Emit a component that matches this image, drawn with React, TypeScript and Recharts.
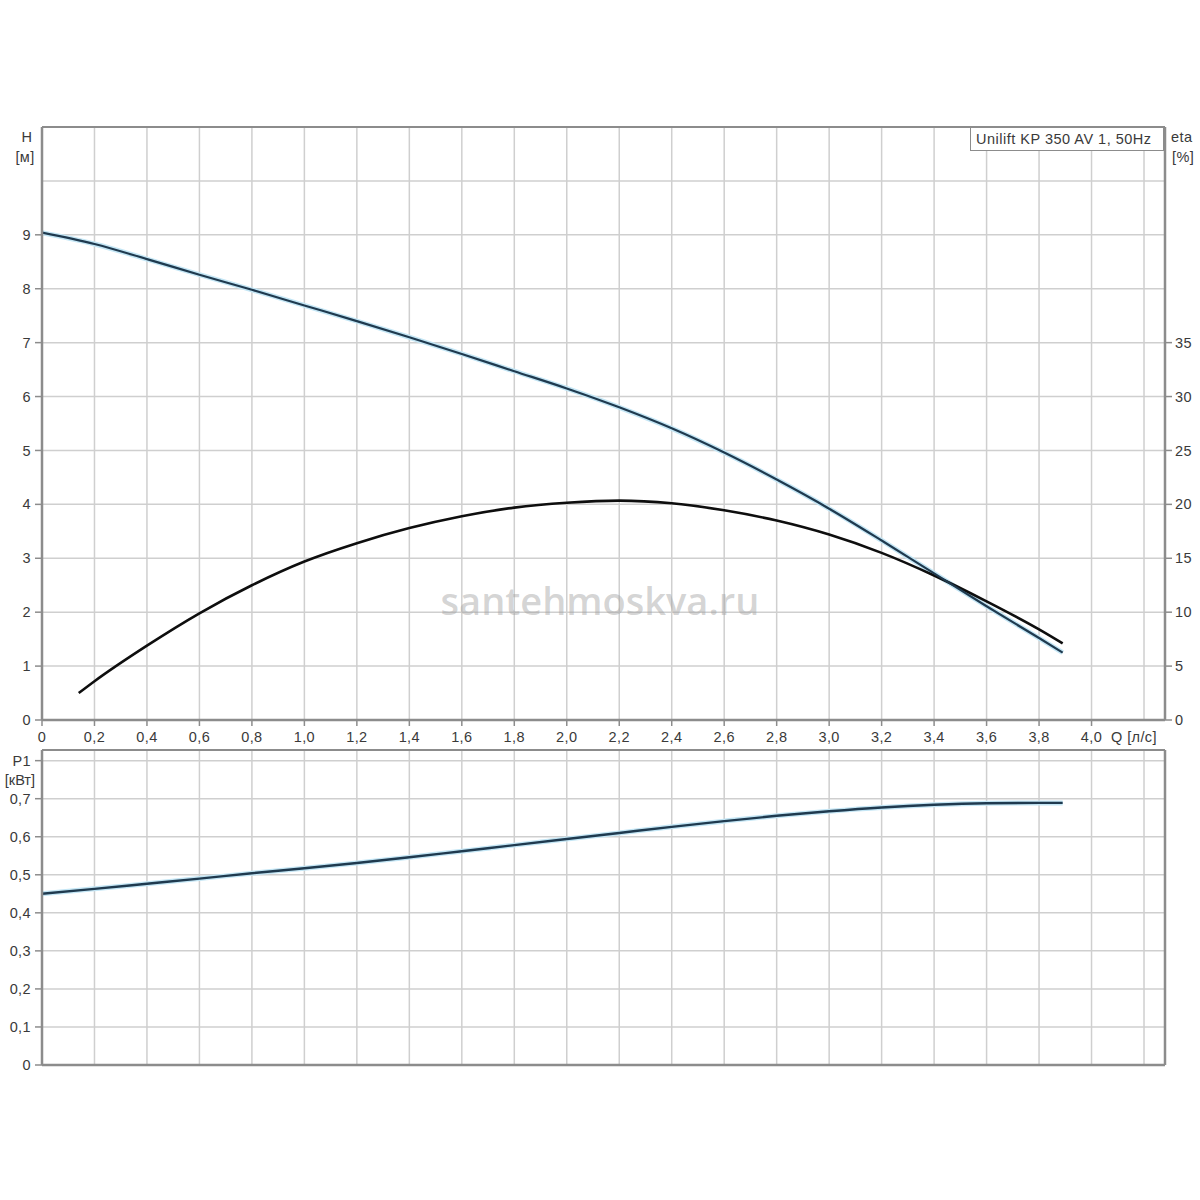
import { LineChart, Line, XAxis, YAxis, CartesianGrid, ReferenceLine } from 'recharts'

// flow rate Q [l/s] sampled along the curves
const Q_POINTS = [0, 0.2, 0.4, 0.6, 0.8, 1.0, 1.2, 1.4, 1.6, 1.8, 2.0, 2.2, 2.4, 2.6, 2.8, 3.0, 3.2, 3.4, 3.6, 3.8, 3.89]
// head H [m]
const HEAD = [9.04, 8.83, 8.55, 8.26, 7.98, 7.69, 7.4, 7.1, 6.79, 6.47, 6.15, 5.8, 5.41, 4.96, 4.46, 3.92, 3.33, 2.72, 2.11, 1.52, 1.25]
// efficiency curve starts a bit later
const ETA_Q = [0.14, 0.2, 0.4, 0.6, 0.8, 1.0, 1.2, 1.4, 1.6, 1.8, 2.0, 2.2, 2.4, 2.6, 2.8, 3.0, 3.2, 3.4, 3.6, 3.8, 3.89]
const ETA = [2.5, 3.6, 6.9, 9.9, 12.5, 14.7, 16.4, 17.8, 18.9, 19.7, 20.15, 20.35, 20.1, 19.45, 18.5, 17.2, 15.5, 13.4, 11.0, 8.4, 7.1]
// power P1 [kW]
const P1 = [0.45, 0.463, 0.4765, 0.49, 0.504, 0.517, 0.531, 0.546, 0.562, 0.578, 0.594, 0.61, 0.626, 0.641, 0.655, 0.667, 0.677, 0.684, 0.688, 0.689, 0.689]

const Q_TICKS = [0, 0.2, 0.4, 0.6, 0.8, 1.0, 1.2, 1.4, 1.6, 1.8, 2.0, 2.2, 2.4, 2.6, 2.8, 3.0, 3.2, 3.4, 3.6, 3.8, 4.0, 4.2]
const H_TICKS = [0, 1, 2, 3, 4, 5, 6, 7, 8, 9, 10, 11]
const ETA_TICKS = [0, 5, 10, 15, 20, 25, 30, 35, 55]
const P_TICKS = [0, 0.1, 0.2, 0.3, 0.4, 0.5, 0.6, 0.7, 0.8]

const TITLE = 'Unilift KP 350 AV 1, 50Hz'
const WATERMARK = 'santehmoskva.ru'

const headData = Q_POINTS.map((q, i) => ({ q, v: HEAD[i] }))
const etaData = ETA_Q.map((q, i) => ({ q, v: ETA[i] }))
const powerData = Q_POINTS.map((q, i) => ({ q, v: P1[i] }))

const FONT = '"Liberation Sans", Arial, sans-serif'
const TEXT = '#3a3a3a'
const GRID = '#cfcfcf'
const AXIS = '#8c8c8c'
const CURVE = '#1f3a4f'
const GLOW = '#c4e6f5'

const fmt = (v: number) => (v === 0 ? '0' : v.toFixed(1).replace('.', ','))

const txt = { fontFamily: FONT, fontSize: 14.5, fill: TEXT, letterSpacing: 0.4 }

// eslint-disable-next-line @typescript-eslint/no-explicit-any
function QTick({ x, y, payload }: any) {
  const v = payload.value
  if (v > 4.1) {
    return <text x={x - 10} y={y + 17} dy="0.35em" textAnchor="middle" {...txt}>Q [л/с]</text>
  }
  return (
    <g>
      <line x1={x} x2={x} y1={y} y2={y + 6} stroke={AXIS} strokeWidth={1.5} />
      <text x={x} y={y + 17} dy="0.35em" textAnchor="middle" {...txt}>{fmt(v)}</text>
    </g>
  )
}

function EmptyTick() {
  return <g />
}

// eslint-disable-next-line @typescript-eslint/no-explicit-any
function HTick({ x, y, payload }: any) {
  const v = payload.value
  if (v === 11) {
    return (
      <g>
        <text x={x - 15} y={y + 10} dy="0.35em" textAnchor="middle" {...txt}>H</text>
        <text x={x - 17} y={y + 30} dy="0.35em" textAnchor="middle" {...txt}>[м]</text>
      </g>
    )
  }
  if (v === 10) return <g />
  return (
    <g>
      <line x1={x - 7} x2={x} y1={y} y2={y} stroke={AXIS} strokeWidth={1.5} />
      <text x={x - 11} y={y} dy="0.35em" textAnchor="end" {...txt}>{v}</text>
    </g>
  )
}

// eslint-disable-next-line @typescript-eslint/no-explicit-any
function EtaTick({ x, y, payload }: any) {
  const v = payload.value
  if (v === 55) {
    return (
      <g>
        <text x={x + 6} y={y + 10} dy="0.35em" {...txt}>eta</text>
        <text x={x + 7} y={y + 30} dy="0.35em" {...txt}>[%]</text>
      </g>
    )
  }
  return (
    <g>
      <line x1={x} x2={x + 7} y1={y} y2={y} stroke={AXIS} strokeWidth={1.5} />
      <text x={x + 10} y={y} dy="0.35em" {...txt}>{v}</text>
    </g>
  )
}

// eslint-disable-next-line @typescript-eslint/no-explicit-any
function PTick({ x, y, payload }: any) {
  const v = payload.value
  return (
    <g>
      <line x1={x - 7} x2={x} y1={y} y2={y} stroke={AXIS} strokeWidth={1.5} />
      {v > 0.75 ? (
        <>
          <text x={x - 11} y={y} dy="0.35em" textAnchor="end" {...txt}>P1</text>
          <text x={x - 7} y={y + 19} dy="0.35em" textAnchor="end" {...txt} letterSpacing={0}>[кВт]</text>
        </>
      ) : (
        <text x={x - 11} y={y} dy="0.35em" textAnchor="end" {...txt}>{fmt(v)}</text>
      )}
    </g>
  )
}

export default function App() {
  return (
    <div style={{ position: 'absolute', left: 0, top: 0, width: 1200, height: 1200, background: '#fff' }}>
      <div style={{ position: 'absolute', left: 0, top: 0 }}>
        <LineChart width={1200} height={770} margin={{ top: 127, right: 0, bottom: 0, left: 0 }}>
          <CartesianGrid stroke={GRID} strokeWidth={1.5} yAxisId="h" />
          <XAxis
            dataKey="q"
            type="number"
            domain={[0, 4.28]}
            ticks={Q_TICKS}
            allowDataOverflow
            height={50}
            tickSize={0}
            tickMargin={0}
            tickLine={false}
            axisLine={{ stroke: AXIS, strokeWidth: 2.5 }}
            tick={<QTick />}
          />
          <YAxis
            yAxisId="h"
            domain={[0, 11]}
            ticks={H_TICKS}
            width={42}
            tickSize={0}
            tickMargin={0}
            tickLine={false}
            axisLine={{ stroke: AXIS, strokeWidth: 2.5 }}
            tick={<HTick />}
          />
          <YAxis
            yAxisId="eta"
            orientation="right"
            domain={[0, 55]}
            ticks={ETA_TICKS}
            width={35}
            tickSize={0}
            tickMargin={0}
            tickLine={false}
            axisLine={{ stroke: AXIS, strokeWidth: 2.5 }}
            tick={<EtaTick />}
          />
          <ReferenceLine yAxisId="h" y={11} stroke={AXIS} strokeWidth={2} />
          <Line yAxisId="h" data={headData} dataKey="v" type="monotone" stroke={GLOW} strokeWidth={5} dot={false} isAnimationActive={false} />
          <Line yAxisId="eta" data={etaData} dataKey="v" type="monotone" stroke="#0e0e0e" strokeWidth={2.6} dot={false} isAnimationActive={false} />
          <Line yAxisId="h" data={headData} dataKey="v" type="monotone" stroke={CURVE} strokeWidth={2.2} dot={false} isAnimationActive={false} />
        </LineChart>
      </div>

      <div style={{ position: 'absolute', left: 0, top: 740 }}>
        <LineChart width={1200} height={340} margin={{ top: 10, right: 0, bottom: 0, left: 0 }}>
          <CartesianGrid stroke={GRID} strokeWidth={1.5} yAxisId="p" />
          <XAxis
            dataKey="q"
            type="number"
            domain={[0, 4.28]}
            ticks={Q_TICKS}
            allowDataOverflow
            height={15}
            tickSize={0}
            tickLine={false}
            tick={<EmptyTick />}
            axisLine={{ stroke: AXIS, strokeWidth: 2.5 }}
          />
          <YAxis
            yAxisId="p"
            domain={[0, 0.828]}
            ticks={P_TICKS}
            allowDataOverflow
            width={42}
            tickSize={0}
            tickMargin={0}
            tickLine={false}
            axisLine={{ stroke: AXIS, strokeWidth: 2.5 }}
            tick={<PTick />}
          />
          <YAxis
            yAxisId="r"
            orientation="right"
            width={35}
            tick={false}
            tickLine={false}
            axisLine={{ stroke: AXIS, strokeWidth: 2.5 }}
          />
          <ReferenceLine yAxisId="p" y={0.828} stroke={AXIS} strokeWidth={2} />
          <Line yAxisId="p" data={powerData} dataKey="v" type="monotone" stroke={GLOW} strokeWidth={5} dot={false} isAnimationActive={false} />
          <Line yAxisId="p" data={powerData} dataKey="v" type="monotone" stroke={CURVE} strokeWidth={2.4} dot={false} isAnimationActive={false} />
        </LineChart>
      </div>

      <div
        style={{
          position: 'absolute',
          left: 970,
          top: 127,
          width: 194,
          height: 24,
          boxSizing: 'border-box',
          border: `1.5px solid ${AXIS}`,
          background: '#fff',
          fontFamily: FONT,
          fontSize: 14.5,
          letterSpacing: 0.5,
          color: TEXT,
          lineHeight: '22px',
          paddingLeft: 5,
          whiteSpace: 'nowrap',
          overflow: 'hidden',
        }}
      >
        {TITLE}
      </div>

      <div
        style={{
          position: 'absolute',
          left: 350,
          top: 574,
          width: 500,
          textAlign: 'center',
          fontFamily: '"Open Sans", "Noto Sans", sans-serif',
          fontWeight: 600,
          fontSize: 38,
          color: 'rgba(160,160,160,0.45)',
          pointerEvents: 'none',
        }}
      >
        {WATERMARK}
      </div>
    </div>
  )
}
